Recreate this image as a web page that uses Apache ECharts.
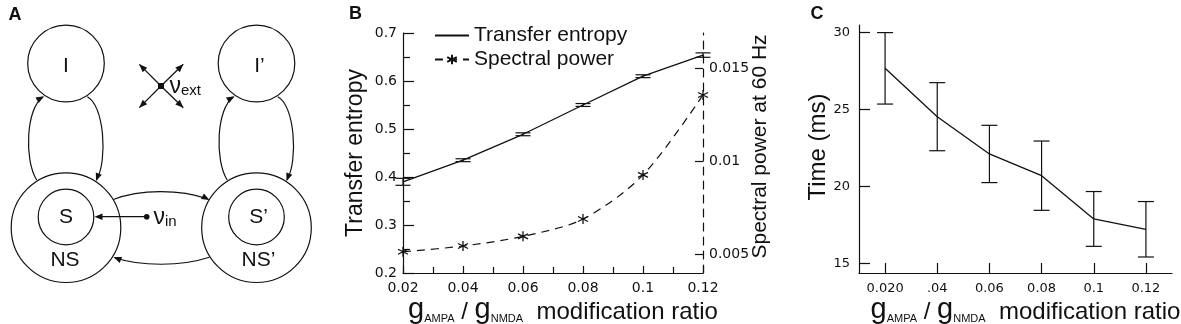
<!DOCTYPE html>
<html>
<head>
<meta charset="utf-8">
<script src="https://cdn.jsdelivr.net/npm/echarts@6.0.0/dist/echarts.min.js"></script>
<style>
html, body { margin: 0; padding: 0; background: #fff; }
#chart { width: 1181px; height: 324px; }
</style>
</head>
<body>
<div id="chart"></div>
<script>
// panel B : transfer entropy + spectral power
var ratios = [0.02, 0.04, 0.06, 0.08, 0.1, 0.12];
var transferEntropy = [0.390, 0.435, 0.489, 0.550, 0.610, 0.654];
var transferErr = [0.0073, 0.003, 0.003, 0.003, 0.003, 0.0046];
var spectralPower = [0.00512, 0.00543, 0.00595, 0.00688, 0.00925, 0.01355];

// panel C : time
var ratioLabels = ['0.020', '.04', '0.06', '0.08', '0.1', '0.12'];
var timeMs = [27.66, 24.52, 22.10, 20.69, 17.88, 17.21];
var timeErr = [2.32, 2.21, 1.86, 2.25, 1.78, 1.8];

var ink = '#111';
var sans = '"Liberation Sans", Arial, sans-serif';
var tickFont = '"DejaVu Sans", sans-serif';

var myChart = echarts.init(document.getElementById('chart'));

// g_AMPA / g_NMDA axis title
var ratioName = '{g|g}{s|AMPA}{t| / }{g|g}{s|NMDA}{t|  modification ratio}';
var ratioRich = {
    g: { fontSize: 29, fontFamily: sans, color: ink, verticalAlign: 'bottom' },
    s: { fontSize: 11, fontFamily: sans, color: ink, verticalAlign: 'bottom' },
    t: { fontSize: 24, fontFamily: sans, color: ink, verticalAlign: 'bottom' }
};

function errBars(halfW) {
    return function (params, api) {
        var x = api.value(0);
        var lo = api.coord([x, api.value(1)]);
        var hi = api.coord([x, api.value(2)]);
        var st = { stroke: ink, lineWidth: 1.2 };
        return {
            type: 'group',
            children: [
                { type: 'line', shape: { x1: lo[0], y1: lo[1], x2: hi[0], y2: hi[1] }, style: st },
                { type: 'line', shape: { x1: lo[0] - halfW, y1: lo[1], x2: lo[0] + halfW, y2: lo[1] }, style: st },
                { type: 'line', shape: { x1: hi[0] - halfW, y1: hi[1], x2: hi[0] + halfW, y2: hi[1] }, style: st }
            ]
        };
    };
}

// ---- panel A diagram (graphic elements) ----
var lineSt = { stroke: ink, lineWidth: 1.2, fill: null };
function circle(cx, cy, r) {
    return { type: 'circle', shape: { cx: cx, cy: cy, r: r }, style: { stroke: ink, lineWidth: 1.2, fill: 'rgba(0,0,0,0)' } };
}
function label(x, y, t, size) {
    return { type: 'text', x: x, y: y, style: { text: t, font: size + 'px ' + sans, fill: ink, align: 'center', verticalAlign: 'middle' } };
}
function head(tx, ty, fx, fy) {
    var a = Math.atan2(ty - fy, tx - fx);
    var len = 8, half = 3.2;
    var bx = tx - len * Math.cos(a), by = ty - len * Math.sin(a);
    var nx = -Math.sin(a), ny = Math.cos(a);
    return { type: 'polygon', shape: { points: [[tx, ty], [bx + nx * half, by + ny * half], [bx - nx * half, by - ny * half]] }, style: { fill: ink } };
}
function curve(x1, y1, c1x, c1y, c2x, c2y, x2, y2) {
    return { type: 'bezierCurve', shape: { x1: x1, y1: y1, cpx1: c1x, cpy1: c1y, cpx2: c2x, cpy2: c2y, x2: x2, y2: y2 }, style: lineSt };
}
function nuText(x, y, sub) {
    return {
        type: 'text', x: x, y: y,
        style: {
            text: '{v|ν}{s|' + sub + '}', align: 'left', verticalAlign: 'middle',
            rich: {
                v: { font: '23px ' + sans, fill: ink, verticalAlign: 'bottom' },
                s: { font: '15px ' + sans, fill: ink, verticalAlign: 'bottom' }
            }
        }
    };
}

var diagram = [];
[0, 190.5].forEach(function (dx, k) {
    var p = k ? '’' : '';
    diagram.push(circle(66 + dx, 63.5, 38.3));
    diagram.push(circle(66 + dx, 227.7, 54.8));
    diagram.push(circle(66 + dx, 217, 27.8));
    diagram.push(label(66 + dx + (k ? 3 : 0), 66, 'I' + p, 21));
    diagram.push(label(66 + dx + (k ? 2 : 0), 217, 'S' + p, 21));
    diagram.push(label(65 + dx + (k ? 3 : 0), 260, 'NS' + p, 21));
    // NS -> I (left loop)
    diagram.push(curve(36.7 + dx, 180, 24 + dx, 160, 26 + dx, 108, 43 + dx, 97));
    diagram.push(head(44 + dx, 96.3, 36 + dx, 101));
    // I -> NS (right loop)
    diagram.push(curve(87.3 + dx, 96.7, 104 + dx, 105, 108 + dx, 160, 96.5 + dx, 180));
    diagram.push(head(96 + dx, 181, 99 + dx, 173));
});
// NS -> NS' (top), NS' -> NS (bottom)
diagram.push(curve(113.3, 199.5, 140, 189, 180, 189, 208, 199));
diagram.push(head(209.5, 200, 201, 195.5));
diagram.push(curve(209.3, 257.3, 182, 266.5, 140, 266.5, 114.5, 257.5));
diagram.push(head(113.5, 257, 122, 260.5));
// nu_in
diagram.push({ type: 'line', shape: { x1: 146.7, y1: 216.7, x2: 100, y2: 216.7 }, style: lineSt });
diagram.push(head(94.5, 216.7, 104, 216.7));
diagram.push({ type: 'circle', shape: { cx: 146.7, cy: 216.7, r: 2.8 }, style: { fill: ink } });
diagram.push(nuText(153.5, 218, 'in'));
// nu_ext cross
[[139.3, 64.3], [183.3, 64.3], [139.3, 107.7], [183.3, 107.7]].forEach(function (t) {
    diagram.push({ type: 'line', shape: { x1: 161, y1: 86, x2: t[0], y2: t[1] }, style: lineSt });
    diagram.push(head(t[0], t[1], 161, 86));
});
diagram.push({ type: 'rect', shape: { x: 158, y: 83, width: 6, height: 6 }, style: { fill: ink } });
diagram.push(nuText(169.5, 87, 'ext'));

// panel letters
diagram.push({ type: 'text', x: 15, y: 15, style: { text: 'A', font: 'bold 18px ' + sans, fill: ink, align: 'center', verticalAlign: 'middle' } });
diagram.push({ type: 'text', x: 355.5, y: 14.5, style: { text: 'B', font: 'bold 18px ' + sans, fill: ink, align: 'center', verticalAlign: 'middle' } });
diagram.push({ type: 'text', x: 817, y: 14.5, style: { text: 'C', font: 'bold 18px ' + sans, fill: ink, align: 'center', verticalAlign: 'middle' } });
diagram.forEach(function (e) { e.silent = true; });

var axisLineSt = { show: true, lineStyle: { color: ink, width: 1.2 } };
var tickSt = { color: ink, width: 1.2 };
var noGrid = { outerBoundsMode: 'none', containLabel: false };

option = {
    backgroundColor: '#fff',
    animation: false,
    textStyle: { fontFamily: sans, color: ink },
    graphic: { elements: diagram },
    legend: {
        left: 434, top: 25, orient: 'vertical', padding: 0,
        itemWidth: 34, itemHeight: 12, itemGap: 3,
        selectedMode: false,
        textStyle: { fontFamily: sans, fontSize: 21, color: ink },
        data: ['Transfer entropy', 'Spectral power']
    },
    // 0: B frame, 1: C frame, 2: B right-axis tick span (0.005..0.015), 3: C tick span (15..30)
    grid: [
        Object.assign({ left: 403, top: 33, width: 300, height: 240 }, noGrid),
        Object.assign({ left: 859, top: 25, width: 313, height: 248 }, noGrid),
        Object.assign({ left: 403, top: 68, width: 300, height: 186 }, noGrid),
        Object.assign({ left: 859, top: 32.3, width: 313, height: 231 }, noGrid)
    ],
    xAxis: [
        {
            gridIndex: 0, type: 'value', min: 0.02, max: 0.12, interval: 0.02,
            name: ratioName, nameLocation: 'middle', nameGap: 22, nameMoveOverlap: false,
            nameTextStyle: { rich: ratioRich, padding: [0, 0, 0, 20] },
            axisLine: axisLineSt,
            axisTick: { show: true, inside: true, length: 7, lineStyle: tickSt },
            minorTick: { show: true, splitNumber: 2, length: 6, lineStyle: tickSt },
            axisLabel: { fontFamily: tickFont, fontSize: 14, color: ink, margin: 8, formatter: function (v) { return String(+v.toFixed(2)); } },
            splitLine: { show: false }
        },
        {
            gridIndex: 1, type: 'category', data: ratioLabels, boundaryGap: true,
            name: ratioName, nameLocation: 'middle', nameGap: 22, nameMoveOverlap: false,
            nameTextStyle: { rich: ratioRich, padding: [0, 0, 0, 20] },
            axisLine: axisLineSt,
            axisTick: { show: true, inside: true, length: 10, alignWithLabel: true, lineStyle: tickSt },
            axisLabel: { fontFamily: tickFont, fontSize: 13, color: ink, margin: 9 },
            splitLine: { show: false }
        },
        { gridIndex: 2, type: 'value', min: 0.02, max: 0.12, show: false },
        { gridIndex: 3, type: 'category', data: ratioLabels, boundaryGap: true, show: false }
    ],
    yAxis: [
        {
            gridIndex: 0, type: 'value', min: 0.2, max: 0.7, interval: 0.1,
            name: 'Transfer entropy', nameLocation: 'middle', nameGap: 36, nameRotate: 90,
            nameTextStyle: { fontFamily: sans, fontSize: 23, color: ink },
            axisLine: axisLineSt,
            axisTick: { show: true, inside: true, length: 11, lineStyle: tickSt },
            minorTick: { show: true, splitNumber: 2, length: 7, lineStyle: tickSt },
            axisLabel: { fontFamily: tickFont, fontSize: 14, color: ink, margin: 6 },
            splitLine: { show: false }
        },
        {
            // dashed right spine over the full plot height
            gridIndex: 0, type: 'value', position: 'right', min: 0.004, max: 0.017,
            name: 'Spectral power at 60 Hz', nameLocation: 'middle', nameGap: 47, nameRotate: 90,
            nameTextStyle: { fontFamily: sans, fontSize: 21, color: ink, padding: [0, 0, 0, 13] },
            axisLine: { show: true, lineStyle: { color: ink, width: 1.2, type: [8, 6] } },
            axisTick: { show: false },
            axisLabel: { show: false },
            splitLine: { show: false }
        },
        {
            gridIndex: 2, type: 'value', position: 'right', min: 0.005, max: 0.015, interval: 0.005,
            axisLine: { show: false },
            axisTick: { show: true, inside: true, length: 8, lineStyle: tickSt },
            axisLabel: { fontFamily: tickFont, fontSize: 14, color: ink, margin: 6 },
            splitLine: { show: false }
        },
        {
            gridIndex: 1, type: 'value', min: 14.4, max: 30.5,
            name: 'Time (ms)', nameLocation: 'middle', nameGap: 29, nameRotate: 90,
            nameTextStyle: { fontFamily: sans, fontSize: 24, color: ink, padding: [0, 0, 0, 4] },
            axisLine: axisLineSt,
            axisTick: { show: false },
            axisLabel: { show: false },
            splitLine: { show: false }
        },
        {
            gridIndex: 3, type: 'value', min: 15, max: 30, interval: 5,
            axisLine: { show: false },
            axisTick: { show: true, inside: true, length: 11, lineStyle: tickSt },
            axisLabel: { fontFamily: tickFont, fontSize: 13, color: ink, margin: 9 },
            splitLine: { show: false }
        }
    ],
    series: [
        {
            name: 'Transfer entropy', type: 'line', xAxisIndex: 0, yAxisIndex: 0,
            data: ratios.map(function (r, i) { return [r, transferEntropy[i]]; }),
            symbol: 'circle', showSymbol: false,
            lineStyle: { color: ink, width: 1.3 },
            itemStyle: { color: 'rgba(0,0,0,0)', borderWidth: 0 }
        },
        {
            name: 'te-err', type: 'custom', xAxisIndex: 0, yAxisIndex: 0,
            renderItem: errBars(7.5), encode: { x: 0, y: [1, 2] }, silent: true,
            data: ratios.map(function (r, i) { return [r, transferEntropy[i] - transferErr[i], transferEntropy[i] + transferErr[i]]; }),
            z: 3
        },
        {
            name: 'Spectral power', type: 'line', xAxisIndex: 2, yAxisIndex: 2,
            data: ratios.map(function (r, i) { return [r, spectralPower[i]]; }),
            smooth: 0.3, clip: false,
            symbol: 'path://M0,-10L0,10M-8.66,-5L8.66,5M-8.66,5L8.66,-5', symbolSize: 10,
            lineStyle: { color: ink, width: 1.2, type: [8, 6] },
            itemStyle: { color: 'rgba(0,0,0,0)', borderColor: ink, borderWidth: 1.3 }
        },
        {
            name: 'Time', type: 'line', xAxisIndex: 3, yAxisIndex: 4,
            data: timeMs, symbol: 'none', clip: false, lineStyle: { color: ink, width: 1.3 }
        },
        {
            name: 'time-err', type: 'custom', xAxisIndex: 3, yAxisIndex: 4,
            renderItem: errBars(8), encode: { x: 0, y: [1, 2] }, silent: true,
            data: timeMs.map(function (t, i) { return [i, t - timeErr[i], t + timeErr[i]]; })
        }
    ]
};
myChart.setOption(option);
</script>
</body>
</html>
